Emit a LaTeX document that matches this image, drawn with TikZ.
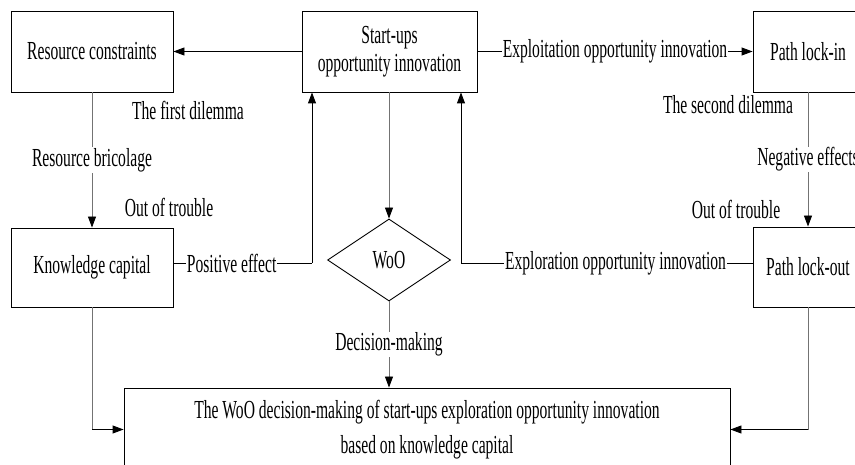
\documentclass[tikz,border=0pt]{standalone}
\usepackage{fontspec}
\setmainfont[FakeStretch=0.6]{Liberation Serif}
\usetikzlibrary{arrows.meta,shapes.geometric}

\tikzset{
  box/.style={draw=black, line width=0.9pt, rectangle, align=center, inner sep=0pt},
  choice/.style={draw=black, line width=0.9pt, diamond, inner sep=0pt,
                 minimum width=123pt, minimum height=82pt},
  conn/.style={draw=black, line width=0.9pt},
  soft/.style={draw=black!55, line width=0.9pt},
  tip/.style={-{Triangle[length=11pt,width=8pt,color=black]}},
  lbl/.style={fill=white, inner sep=1pt},
  note/.style={inner sep=0pt},
}

\begin{document}
\begin{tikzpicture}[x=1pt, y=-1pt, font=\fontsize{26}{28}\selectfont]
  \useasboundingbox (0,0) rectangle (855,465);
  \clip (0,0) rectangle (855,465);

  % boxes
  \node[box, minimum width=162pt, minimum height=81pt] (rc) at (92,51.5) {Resource constraints};
  \node[box, minimum width=175pt, minimum height=81pt] (su) at (389.5,51.5) {Start-ups\\opportunity innovation};
  \node[box, minimum width=110pt, minimum height=81pt] (pli) at (808,51.5) {Path lock-in};
  \node[box, minimum width=162pt, minimum height=79pt] (kc) at (92,267.5) {Knowledge capital};
  \node[choice] (woo) at (389,260) {WoO};
  \node[box, minimum width=110pt, minimum height=80pt] (plo) at (808,267) {Path lock-out};
  \node[box, minimum width=606pt, minimum height=83pt] (big) at (427,429.5)
    {The WoO decision-making of start-ups exploration opportunity innovation\\[7pt]based on knowledge capital};

  % free labels
  \node[note] (d1) at (188,110) {The first dilemma};
  \node[note] (o1) at (169,207) {Out of trouble};
  \node[note] (d2) at (728,105) {The second dilemma};
  \node[note] (o2) at (736,209) {Out of trouble};

  % bend points
  \coordinate (pe) at (312,263);
  \coordinate (ex) at (461,263);

  % connectors
  \draw[conn, tip] (su) -- (rc);
  \draw[conn, tip] (su) -- node[lbl] {Exploitation opportunity innovation} (pli);

  \draw[soft, tip] (rc) -- node[lbl] {Resource bricolage} (kc);
  \draw[soft, tip] (pli) -- node[lbl] {Negative effects} (plo);
  \draw[soft, tip] (su.south -| woo.north) -- (woo.north);
  \draw[soft, tip] (woo) -- node[lbl] {Decision-making} (big.north -| woo.south);

  \draw[conn] (kc.east |- pe) -- node[lbl, pos=0.42] {Positive effect} (pe);
  \draw[conn, tip] (pe) -- (pe |- su.south);

  \draw[conn] (plo.west |- ex) -- node[lbl, pos=0.47] {Exploration opportunity innovation} (ex);
  \draw[conn, tip] (ex) -- (ex |- su.south);

  \draw[soft] (kc.south) -- (kc.south |- big.west);
  \draw[conn, tip] (kc.south |- big.west) -- (big.west);
  \draw[soft] (plo.south) -- (plo.south |- big.east);
  \draw[conn, tip] (plo.south |- big.east) -- (big.east);
\end{tikzpicture}
\end{document}
